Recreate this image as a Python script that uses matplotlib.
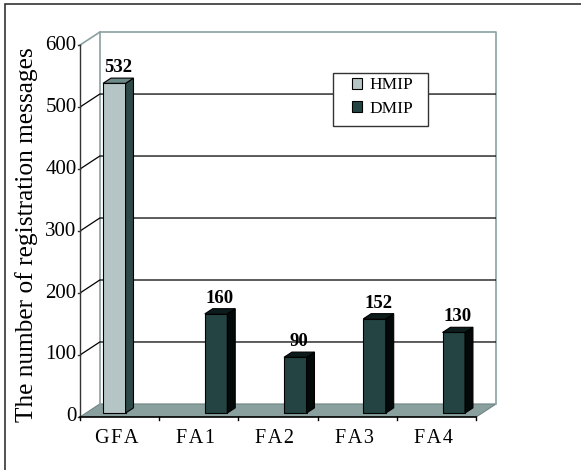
import numpy as np
import matplotlib.pyplot as plt
from matplotlib.patches import Polygon, Rectangle

categories = ['GFA', 'FA1', 'FA2', 'FA3', 'FA4']
hmip = [532, 0, 0, 0, 0]
dmip = [0, 160, 90, 152, 130]
yticks = [0, 100, 200, 300, 400, 500, 600]

# depth of the 3d box, in data units
DX = 0.25
DY = 21
BAR_W = 0.284
Z0, Z1 = 0.3, 0.7   # bar front / back depth fraction

plt.rcParams['font.family'] = ['Liberation Serif', 'DejaVu Serif']

fig = plt.figure(figsize=(5.81, 4.70), dpi=100)
fig.patches.append(Rectangle((0.0086, -0.05), 1.2, 1.041, transform=fig.transFigure,
                             fill=False, edgecolor='#333333', lw=1.2))

ax = fig.add_axes([0.1377, 0.1128, 0.716, 0.819])
ax.set_xlim(-0.5, 4.5 + DX)
ax.set_ylim(0, 600 + DY)
ax.axis('off')

x0, x1 = -0.5, 4.5
ymax = 600
wall_c = '#8aa0a0'

# floor
ax.add_patch(Polygon([(x0, 0), (x1, 0), (x1 + DX, DY), (x0 + DX, DY)], closed=True,
                     facecolor='#8aa09e', edgecolor='#6f8584', lw=0.8, zorder=1))
# back wall and side wall outline
ax.plot([x0 + DX, x0 + DX, x1 + DX, x1 + DX], [DY, ymax + DY, ymax + DY, DY],
        color=wall_c, lw=1.2, zorder=1, clip_on=False)
ax.plot([x0, x0 + DX], [ymax, ymax + DY], color=wall_c, lw=1.2, zorder=1, clip_on=False)

# gridlines on side and back wall
for t in yticks[1:-1]:
    ax.plot([x0, x0 + DX, x1 + DX], [t, t + DY, t + DY], color='black', lw=0.9, zorder=1)

# front value axis with ticks and labels
ax.plot([x0, x0], [0, ymax], color='#333333', lw=1.0, zorder=1, clip_on=False)
for t in yticks:
    ax.plot([x0 - 0.03, x0], [t, t], color='#333333', lw=1.0, clip_on=False)
    ax.text(x0 - 0.045, t, str(t), ha='right', va='center', fontsize=15)

# front category edge with ticks
ax.plot([x0, x1], [0, 0], color='black', lw=1.2, zorder=2, clip_on=False)
for b in np.arange(x0, x1 + 0.01, 1.0):
    ax.plot([b, b], [0, -5], color='black', lw=1.0, zorder=2, clip_on=False)
for i, c in enumerate(categories):
    ax.text(i - 0.04, -20, '\u200a'.join(c), ha='center', va='top', fontsize=14.5)


def draw_bars(offset, values, front, top, side, label):
    xs = np.arange(len(values)) + offset
    v = np.array(values, dtype=float)
    keep = v > 0
    bars = ax.bar(xs[keep] + Z0 * DX, v[keep], width=BAR_W, bottom=Z0 * DY, align='edge',
                  color=front, edgecolor='black', lw=0.8, zorder=3, label=label)
    for x, h in zip(xs[keep], v[keep]):
        xl = x + Z0 * DX
        xr = xl + BAR_W
        yb = Z0 * DY
        yt = h + Z0 * DY
        ddx = (Z1 - Z0) * DX
        ddy = (Z1 - Z0) * DY
        ax.add_patch(Polygon([(xr, yb), (xr + ddx, yb + ddy), (xr + ddx, yt + ddy), (xr, yt)],
                             closed=True, facecolor=side, edgecolor='black', lw=0.8, zorder=3))
        ax.add_patch(Polygon([(xl, yt), (xr, yt), (xr + ddx, yt + ddy), (xl + ddx, yt + ddy)],
                             closed=True, facecolor=top, edgecolor='black', lw=0.8, zorder=3))
        ax.annotate(f'{int(h)}', (xl + BAR_W / 2 + 0.5 * (Z1 - Z0) * DX, yt + ddy),
                    xytext=(0, 1.5), textcoords='offset points', ha='center', va='bottom',
                    fontsize=13.5, fontweight='bold', zorder=4)
    return bars


draw_bars(-BAR_W, hmip, '#b5c5c5', '#6e8a88', '#2e4a48', 'HMIP')
draw_bars(0.0, dmip, '#244444', '#0c1c1c', '#030808', 'DMIP')

# legend frame, then the entries inside it
ax.add_patch(Rectangle((0.608, 0.756), 0.229, 0.138, transform=ax.transAxes,
                       facecolor='white', edgecolor='#333333', lw=1.0, zorder=5))
leg = ax.legend(loc='upper left', bbox_to_anchor=(0.655, 0.882), frameon=False,
                fontsize=12.5, handlelength=0.55, handleheight=0.55, handletextpad=0.45,
                labelspacing=0.42, borderpad=0, borderaxespad=0)
leg.set_zorder(6)

fig.text(0.045, 0.5, 'The number of registration messages', rotation=90,
         ha='center', va='center', fontsize=18.3)

fig.savefig('out.png', dpi=100)
